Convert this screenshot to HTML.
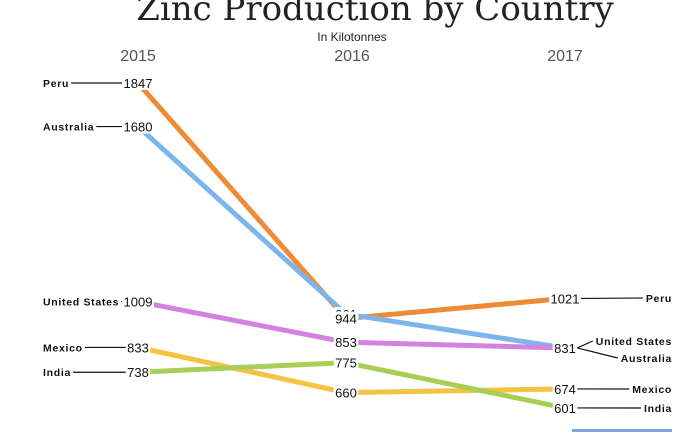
<!DOCTYPE html>
<html><head><meta charset="utf-8"><style>
body{margin:0;background:#fff;width:700px;height:432px;overflow:hidden}
svg text{font-family:"Liberation Sans",Arial,sans-serif}
</style></head><body>
<svg width="700" height="432" viewBox="0 0 700 432">
<text x="375" y="20" text-anchor="middle" font-size="34" fill="#222" style="font-family:'DejaVu Serif','Liberation Serif',serif">Zinc Production by Country</text>
<text x="352" y="41" text-anchor="middle" font-size="12" fill="#222">In Kilotonnes</text>
<g id="g"></g>
<rect x="572" y="429" width="100" height="3" fill="#7aa6e0"/>
</svg>
<script>
const years=["2015","2016","2017"];
const countries=["Peru","Australia","United States","Mexico","India"];
const peru=[1847,944,1021];
const australia=[1680,961,831];
const usa=[1009,853,831];
const mexico=[833,660,674];
const india=[738,775,601];
const colors=["#ef8a37","#7cb5ec","#d283de","#f5c242","#a8cf55"];
const series=[peru,australia,usa,mexico,india];
const xs=[138,346,565];
const x=i=>xs[i];
const y=v=>83+(1847-v)*0.2608;
const NS="http://www.w3.org/2000/svg";
const g=document.getElementById('g');
function mk(t,a){const e=document.createElementNS(NS,t);for(const k in a)e.setAttribute(k,a[k]);g.appendChild(e);return e;}
years.forEach((yr,i)=>{const t=mk('text',{x:x(i)+(i==1?6:0),y:61,'text-anchor':'middle','font-size':16,fill:'#555'});t.textContent=yr;

});
series.forEach((s,k)=>{const p=mk('polyline',{points:s.map((v,i)=>x(i)+','+y(v)).join(' '),fill:'none',stroke:colors[k],'stroke-width':5});

});
const order=[4,3,2,1,0];
order.forEach(k=>{const s=series[k];s.forEach((v,i)=>{const yy=y(v);const w=String(v).length*7.5+2;
const r=mk('rect',{x:x(i)-w/2,y:yy-7,width:w,height:14,fill:'#fff'});


const t=mk('text',{x:x(i),y:yy+5,'text-anchor':'middle','font-size':13,fill:'#111'});t.textContent=v;

});});
const nameStyle={'font-size':10.5,'font-weight':'bold',fill:'#111','letter-spacing':0.7};
// left names
series.forEach((s,k)=>{const yy=y(s[0]);const w=String(s[0]).length*7.5+2;
const t=mk('text',Object.assign({x:43,y:yy+4},nameStyle));t.textContent=countries[k];


const tw=t.getComputedTextLength();
const l=mk('line',{x1:43+tw+2,y1:yy,x2:x(0)-w/2,y2:yy,stroke:'#111','stroke-width':1.2});

});
// right names
const rightY=[298,358,341,389,408];
series.forEach((s,k)=>{const yy=y(s[2]);const ly=rightY[k];const w=String(s[2]).length*7.5+2;
const t=mk('text',Object.assign({x:672,y:ly+4,'text-anchor':'end'},nameStyle));t.textContent=countries[k];


const tw=t.getComputedTextLength();
const l=mk('polyline',{points:(x(2)+w/2)+','+yy+' '+(672-tw-3)+','+ly,fill:'none',stroke:'#111','stroke-width':1.2});

});
</script>
</body></html>
